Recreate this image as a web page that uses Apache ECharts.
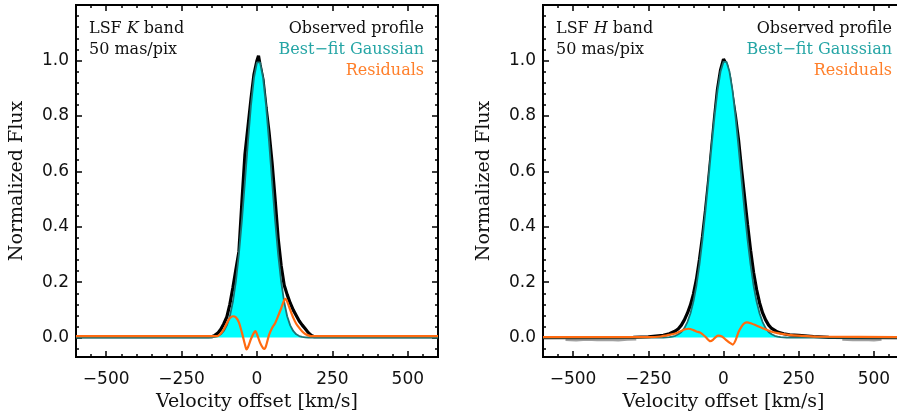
<!DOCTYPE html>
<html><head><meta charset="utf-8">
<script src="https://cdn.jsdelivr.net/npm/echarts@6/dist/echarts.min.js"></script>
<style>html,body{margin:0;padding:0;background:#fff}#c{width:897px;height:416px}</style>
</head><body><div id="c"></div>
<script>
// ---------- tick labels ----------
const xTickLabels = [-500, -250, 0, 250, 500];
const yTickLabels = [0.0, 0.2, 0.4, 0.6, 0.8, 1.0];

// ---------- K band (left panel) ----------
const kObsV = [-600,-150,-140,-130,-120,-110,-100,-90,-80,-70,-60,-50,-40,-30,-20,-10,0,5,10,20,30,40,50,60,70,80,90,100,110,120,130,140,150,160,170,180,190,600];
const kObs  = [0.003,0.003,0.008,0.016,0.03,0.05,0.075,0.12,0.18,0.246,0.31,0.49,0.66,0.76,0.86,0.95,1.0,1.017,0.985,0.93,0.83,0.74,0.63,0.5,0.36,0.26,0.19,0.155,0.125,0.1,0.08,0.06,0.045,0.032,0.018,0.008,0.003,0.003];
const kGaussV = [-600,-170,-160,-150,-140,-130,-120,-110,-100,-90,-80,-70,-60,-50,-40,-30,-20,-10,0,10,20,30,40,50,60,70,80,90,100,110,120,130,140,150,160,170,180,600];
const kGauss  = [0,0,0.0004,0.0011,0.0026,0.0057,0.012,0.024,0.044,0.077,0.129,0.203,0.302,0.424,0.563,0.707,0.838,0.938,0.993,0.993,0.938,0.838,0.707,0.563,0.424,0.302,0.203,0.129,0.077,0.044,0.024,0.012,0.0057,0.0026,0.0011,0.0004,0,0];
const kResV = [-600,-140,-130,-120,-110,-100,-90,-80,-70,-60,-50,-40,-35,-30,-20,-10,-5,0,10,20,25,30,40,50,60,70,80,90,95,100,110,120,130,140,150,160,170,180,600];
const kRes  = [0.005,0.005,0.006,0.015,0.03,0.052,0.07,0.077,0.073,0.055,0.018,-0.025,-0.043,-0.035,-0.005,0.018,0.023,0.012,-0.018,-0.038,-0.041,-0.03,0.01,0.035,0.052,0.078,0.105,0.135,0.14,0.13,0.1,0.072,0.05,0.035,0.022,0.013,0.008,0.005,0.005];

// ---------- H band (right panel) ----------
const hObsV = [-600,-300,-250,-200,-180,-160,-150,-140,-130,-120,-110,-100,-90,-80,-70,-60,-50,-40,-30,-20,-10,0,10,20,30,40,50,60,70,80,90,100,110,120,130,140,150,160,180,200,220,250,300,350,600];
const hObs  = [0,0.001,0.003,0.008,0.014,0.024,0.032,0.045,0.064,0.088,0.117,0.157,0.21,0.281,0.363,0.458,0.562,0.675,0.792,0.896,0.965,1.005,0.985,0.94,0.866,0.797,0.713,0.607,0.508,0.408,0.315,0.235,0.173,0.125,0.089,0.064,0.045,0.033,0.02,0.014,0.01,0.008,0.004,0.001,0];
const hGaussV = [-600,-250,-200,-190,-180,-170,-160,-150,-140,-130,-120,-110,-100,-90,-80,-70,-60,-50,-40,-30,-20,-10,0,10,20,30,40,50,60,70,80,90,100,110,120,130,140,150,160,170,180,190,200,210,250,600];
const hGauss  = [0,0,0.0004,0.0009,0.0018,0.0035,0.0065,0.012,0.02,0.034,0.056,0.087,0.13,0.188,0.263,0.353,0.458,0.572,0.688,0.797,0.891,0.959,0.995,0.995,0.959,0.891,0.797,0.688,0.572,0.458,0.353,0.263,0.188,0.13,0.087,0.056,0.034,0.02,0.012,0.0065,0.0035,0.0018,0.0009,0.0004,0,0];
const hResV = [-600,-250,-210,-180,-160,-140,-130,-116,-100,-90,-77,-60,-44,-35,-25,-17,-5,5,20,31,40,50,60,70,78,90,111,130,155,180,210,260,310,600];
const hRes  = [0.002,0.002,0.004,0.01,0.015,0.024,0.029,0.032,0.027,0.022,0.018,0.003,-0.013,-0.008,0.003,0.007,0.004,-0.005,-0.018,-0.025,-0.01,0.02,0.04,0.052,0.055,0.052,0.043,0.034,0.023,0.016,0.011,0.006,0.003,0.002];
const hNoiseLV = [-525,-490,-455,-420,-385,-350,-320,-290];
const hNoiseL  = [-0.005,-0.007,-0.004,-0.006,-0.005,-0.007,-0.004,-0.003];
const hNoiseRV = [395,430,465,500,525];
const hNoiseR  = [-0.004,-0.006,-0.005,-0.007,-0.004];

// ---------- helpers ----------
const zip = (xs, ys) => xs.map((x, i) => [x, ys[i]]);
const yMinorTicks = [];
for (let i = -1; i <= 30; i++) yMinorTicks.push(+(i * 0.04).toFixed(2));
const xFmt = v => (v < 0 ? '\u2212' : '') + Math.abs(v);
const serif = 'DejaVu Serif';
const sans = 'DejaVu Sans';
const TXT = '#111';

const gridDefs = [
  {left: 76, top: 5, width: 362, height: 352},
  {left: 543, top: 5, width: 361, height: 352}
];

const noLine = {show: false, onZero: false};
const xAxes = [], yAxes = [];
gridDefs.forEach((g, gi) => {
  const tickStyle = {color: '#000', width: 1.5};
  xAxes.push({gridIndex: gi, type: 'value', min: -600, max: 600, position: 'bottom',
    axisLine: noLine, splitLine: {show: false},
    axisTick: {show: true, inside: true, length: 6, customValues: xTickLabels, lineStyle: tickStyle},
    axisLabel: {show: true, customValues: xTickLabels, formatter: xFmt, margin: 14,
      fontSize: 17, fontFamily: sans, color: TXT},
    name: 'Velocity offset [km/s]', nameLocation: 'middle', nameGap: 35,
    nameTextStyle: {fontFamily: serif, fontSize: 19, color: TXT}});
  xAxes.push({gridIndex: gi, type: 'value', min: -600, max: 600, interval: 50, position: 'bottom',
    axisLine: noLine, splitLine: {show: false}, axisLabel: {show: false},
    axisTick: {show: true, inside: true, length: 3, lineStyle: tickStyle}});
  xAxes.push({gridIndex: gi, type: 'value', min: -600, max: 600, position: 'top',
    axisLine: noLine, splitLine: {show: false}, axisLabel: {show: false},
    axisTick: {show: true, inside: true, length: 6, customValues: xTickLabels, lineStyle: tickStyle}});
  xAxes.push({gridIndex: gi, type: 'value', min: -600, max: 600, interval: 50, position: 'top',
    axisLine: noLine, splitLine: {show: false}, axisLabel: {show: false},
    axisTick: {show: true, inside: true, length: 3, lineStyle: tickStyle}});

  yAxes.push({gridIndex: gi, type: 'value', min: -0.07, max: 1.2, position: 'left',
    axisLine: noLine, splitLine: {show: false},
    axisTick: {show: true, inside: true, length: 6, customValues: yTickLabels, lineStyle: tickStyle},
    axisLabel: {show: true, customValues: yTickLabels, formatter: v => v.toFixed(1), margin: 7,
      fontSize: 17, fontFamily: sans, color: TXT},
    name: 'Normalized Flux', nameLocation: 'middle', nameGap: 49,
    nameTextStyle: {fontFamily: serif, fontSize: 19, color: TXT}});
  yAxes.push({gridIndex: gi, type: 'value', min: -0.07, max: 1.2, position: 'left',
    axisLine: noLine, splitLine: {show: false}, axisLabel: {show: false},
    axisTick: {show: true, inside: true, length: 3, customValues: yMinorTicks, lineStyle: tickStyle}});
  yAxes.push({gridIndex: gi, type: 'value', min: -0.07, max: 1.2, position: 'right',
    axisLine: noLine, splitLine: {show: false}, axisLabel: {show: false},
    axisTick: {show: true, inside: true, length: 6, customValues: yTickLabels, lineStyle: tickStyle}});
  yAxes.push({gridIndex: gi, type: 'value', min: -0.07, max: 1.2, position: 'right',
    axisLine: noLine, splitLine: {show: false}, axisLabel: {show: false},
    axisTick: {show: true, inside: true, length: 3, customValues: yMinorTicks, lineStyle: tickStyle}});
});

function panelSeries(gi, obsV, obs, gV, g, rV, r) {
  const base = {type: 'line', xAxisIndex: gi * 4, yAxisIndex: gi * 4, symbol: 'none',
    showSymbol: false, animation: false, silent: true};
  return [
    Object.assign({}, base, {name: 'Observed profile', data: zip(obsV, obs), z: 2,
      lineStyle: {color: '#000', width: 3.2}}),
    Object.assign({}, base, {name: 'Best-fit Gaussian', data: zip(gV, g), z: 3,
      lineStyle: {color: '#1b7474', width: 1.8},
      areaStyle: {color: '#00ffff', opacity: 1}}),
    Object.assign({}, base, {name: 'Residuals', data: zip(rV, r), z: 4, smooth: 0.2,
      lineStyle: {color: '#ff6a10', width: 2.2}})
  ];
}

const series = [
  {type: 'line', xAxisIndex: 4, yAxisIndex: 4, symbol: 'none', animation: false, z: 1,
    data: zip(hNoiseLV, hNoiseL), lineStyle: {color: '#a0a0a0', width: 4}},
  {type: 'line', xAxisIndex: 4, yAxisIndex: 4, symbol: 'none', animation: false, z: 1,
    data: zip(hNoiseRV, hNoiseR), lineStyle: {color: '#a0a0a0', width: 4}},
  ...panelSeries(0, kObsV, kObs, kGaussV, kGauss, kResV, kRes),
  ...panelSeries(1, hObsV, hObs, hGaussV, hGauss, hResV, hRes)
];

function txt(x, y, text, fill, align, rich) {
  const st = {text: text, x: x, y: y, fill: fill, textAlign: align, textVerticalAlign: 'middle',
    font: '16px "DejaVu Serif"'};
  if (rich) st.rich = rich;
  return {type: 'text', z: 100, style: st};
}
const bandRich = {
  a: {fontFamily: serif, fontSize: 16, color: TXT},
  i: {fontFamily: serif, fontSize: 16, fontStyle: 'italic', color: TXT}
};
const graphic = [
  txt(89, 29, '{a|LSF }{i|K}{a| band}', TXT, 'left', bandRich),
  txt(89, 50, '50 mas/pix', TXT, 'left'),
  txt(424, 29, 'Observed profile', TXT, 'right'),
  txt(424, 50, 'Best\u2212fit Gaussian', '#25a5a5', 'right'),
  txt(424, 71, 'Residuals', '#ff7f2a', 'right'),
  txt(556, 29, '{a|LSF }{i|H}{a| band}', TXT, 'left', bandRich),
  txt(556, 50, '50 mas/pix', TXT, 'left'),
  txt(892, 29, 'Observed profile', TXT, 'right'),
  txt(892, 50, 'Best\u2212fit Gaussian', '#25a5a5', 'right'),
  txt(892, 71, 'Residuals', '#ff7f2a', 'right')
];

const chart = echarts.init(document.getElementById('c'), null, {renderer: 'canvas'});
chart.setOption({
  backgroundColor: '#fff',
  animation: false,
  grid: gridDefs.map(g => Object.assign({show: true, borderColor: '#000', borderWidth: 2,
    backgroundColor: 'transparent', containLabel: false, outerBoundsMode: 'none'}, g)),
  xAxis: xAxes,
  yAxis: yAxes,
  series: series,
  graphic: graphic
});
</script>
</body></html>
